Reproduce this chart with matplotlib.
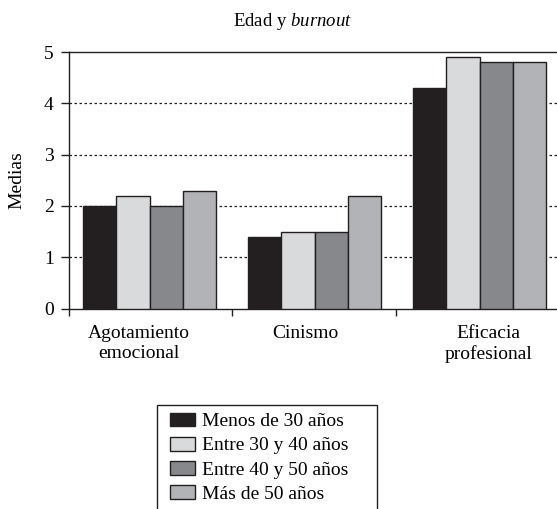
import numpy as np
import matplotlib.pyplot as plt
from matplotlib.patches import Rectangle

plt.rcParams['font.family'] = ['Liberation Serif', 'DejaVu Serif']
plt.rcParams['mathtext.fontset'] = 'custom'
plt.rcParams['mathtext.rm'] = 'Liberation Serif'
plt.rcParams['mathtext.it'] = 'Liberation Serif:italic'

# datos
categorias = ['Agotamiento\nemocional', 'Cinismo', 'Eficacia\nprofesional']
grupos = ['Menos de 30 años', 'Entre 30 y 40 años', 'Entre 40 y 50 años', 'Más de 50 años']
menos30 = [2.0, 1.4, 4.3]
entre30_40 = [2.2, 1.5, 4.9]
entre40_50 = [2.0, 1.5, 4.8]
mas50 = [2.3, 2.2, 4.8]
series = [menos30, entre30_40, entre40_50, mas50]
colores = ['#231f20', '#d9dadc', '#86888b', '#b2b3b6']

fig = plt.figure(figsize=(5.57, 5.09), dpi=100)
ax = fig.add_axes([0.1239, 0.3939, 0.9, 0.5039])

x = np.arange(len(categorias))
w = 0.201
for i, (vals, c) in enumerate(zip(series, colores)):
  ax.bar(x + (i - 1.5) * w, vals, w, color=c, edgecolor='#231f20',
         linewidth=1.0, label=grupos[i], zorder=3)

ax.set_xlim(-0.488, 2.55)
ax.set_ylim(0, 5)
ax.set_yticks([0, 1, 2, 3, 4, 5])
for v in [1, 2, 3, 4]:
  ax.axhline(v, color='#231f20', linestyle=(0, (2, 2)), linewidth=0.9, zorder=1)

# marcas entre grupos y etiquetas
ax.set_xticks([-0.488, 0.5, 1.494], minor=True)
ax.set_xticks([-0.064, 0.942, 2.055])
ax.set_xticklabels(categorias, fontsize=14, linespacing=1.2)
ax.tick_params(axis='x', which='major', length=0, pad=12)
ax.tick_params(axis='x', which='minor', length=5, width=1, color='#231f20', direction='out')
ax.tick_params(axis='y', length=6, width=1, color='#231f20', labelsize=14, pad=5)

for s in ['left', 'bottom', 'top']:
  ax.spines[s].set_color('#231f20')
  ax.spines[s].set_linewidth(1.0)
ax.spines['right'].set_visible(False)

fig.text(17 / 557, 1 - 180 / 509, 'Medias', rotation=90, ha='center', va='center', fontsize=14)
fig.text(293 / 557, 1 - 21 / 509, r'Edad y $\it{burnout}$', ha='center', va='center', fontsize=13.5)

# leyenda
leg = fig.legend(loc='upper left', bbox_to_anchor=(154 / 557, 1 - 397 / 509), frameon=False,
                 fontsize=14, handlelength=1.29, handleheight=0.72, handletextpad=0.4,
                 labelspacing=0.33, borderpad=0.3)
for p in leg.get_patches():
  p.set_edgecolor('#231f20')
  p.set_linewidth(1.0)
fig.add_artist(Rectangle((157 / 557, -0.05), (377 - 157) / 557, 0.05 + 1 - 405 / 509,
                         transform=fig.transFigure, fill=False, edgecolor='#231f20', linewidth=1.0))

fig.savefig('out.png', dpi=100)
